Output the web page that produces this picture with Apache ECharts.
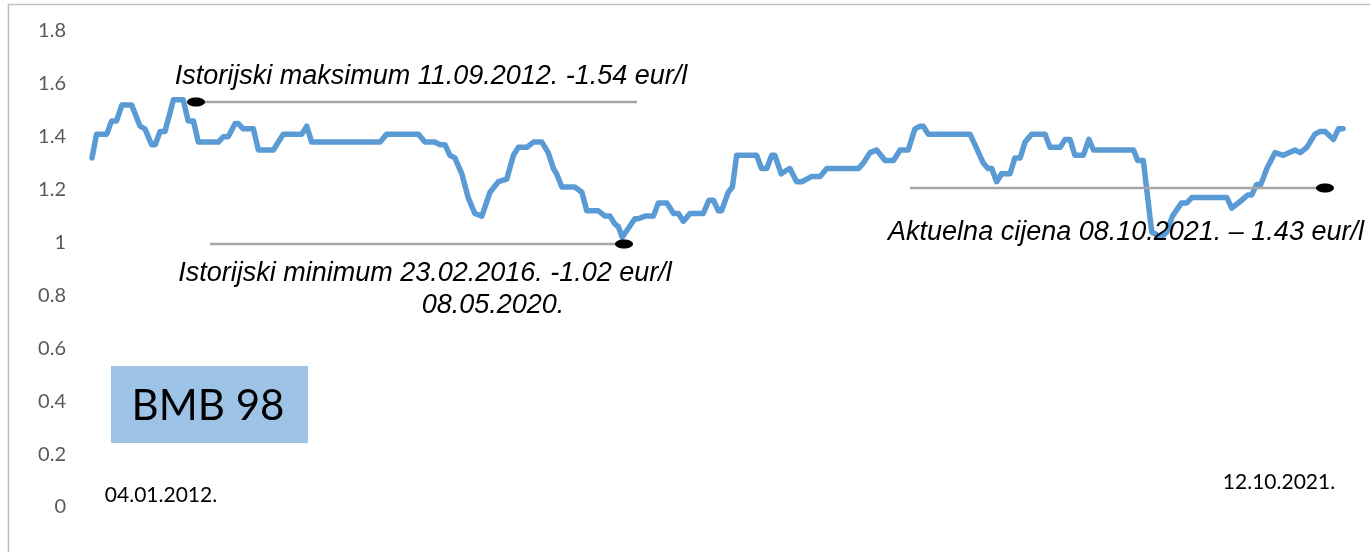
<!DOCTYPE html>
<html>
<head>
<meta charset="utf-8">
<script src="https://cdn.jsdelivr.net/npm/echarts@6/dist/echarts.min.js"></script>
<style>html,body{margin:0;padding:0;background:#fff}#c{width:1370px;height:552px}</style>
</head>
<body>
<div id="c"></div>
<script>
const dates = [
'2012-01-04','2012-01-17','2012-02-15','2012-02-29','2012-03-14','2012-03-29','2012-04-26','2012-05-20','2012-06-03','2012-06-22',
'2012-07-02','2012-07-16','2012-07-30','2012-08-23','2012-09-11','2012-09-20','2012-10-04','2012-10-19','2012-11-02','2012-12-29',
'2013-01-12','2013-01-26','2013-02-15','2013-02-24','2013-03-10','2013-04-08','2013-04-22','2013-06-04','2013-07-02','2013-08-24',
'2013-09-07','2013-09-21','2014-04-04','2014-04-23','2014-07-22','2014-08-10','2014-09-07','2014-09-22','2014-10-06','2014-10-20',
'2014-11-03','2014-11-23','2014-12-11','2014-12-30','2015-01-19','2015-02-11','2015-03-07','2015-03-31','2015-04-19','2015-05-03',
'2015-05-27','2015-06-15','2015-07-09','2015-07-27','2015-08-11','2015-08-20','2015-09-04','2015-10-11','2015-10-31','2015-11-14',
'2015-12-17','2016-01-05','2016-01-19','2016-02-02','2016-02-12','2016-02-23','2016-03-30','2016-04-09','2016-04-28','2016-05-22',
'2016-06-05','2016-06-29','2016-07-18','2016-08-01','2016-08-15','2016-09-03','2016-10-11','2016-10-27','2016-11-09','2016-11-23',
'2016-12-02','2016-12-21','2017-01-02','2017-01-14','2017-03-12','2017-03-26','2017-04-10','2017-04-24','2017-05-03','2017-05-21',
'2017-06-01','2017-06-15','2017-07-04','2017-07-19','2017-08-16','2017-09-09','2017-09-28','2017-12-27','2018-01-10','2018-01-29',
'2018-02-17','2018-03-13','2018-04-06','2018-04-25','2018-05-18','2018-06-06','2018-06-21','2018-06-30','2018-07-14','2018-11-10',
'2018-11-24','2018-12-18','2019-01-01','2019-01-11','2019-01-25','2019-02-08','2019-03-04','2019-03-18','2019-04-02','2019-04-16',
'2019-05-05','2019-06-12','2019-06-26','2019-07-25','2019-08-08','2019-08-22','2019-09-05','2019-09-29','2019-10-15','2019-10-28',
'2020-02-19','2020-03-02','2020-03-18','2020-04-11','2020-05-08','2020-05-24','2020-06-09','2020-07-05','2020-07-20','2020-08-03',
'2020-11-11','2020-11-25','2020-12-23','2021-01-10','2021-01-21','2021-02-04','2021-02-16','2021-03-05','2021-03-28','2021-04-21',
'2021-05-24','2021-06-08','2021-06-27','2021-07-20','2021-08-04','2021-08-18','2021-09-11','2021-09-25','2021-10-08'
];
const prices = [
1.32,1.41,1.41,1.46,1.46,1.52,1.52,1.44,1.43,1.37,
1.37,1.42,1.42,1.54,1.54,1.54,1.46,1.46,1.38,1.38,
1.40,1.40,1.45,1.45,1.43,1.43,1.35,1.35,1.41,1.41,
1.44,1.38,1.38,1.41,1.41,1.38,1.38,1.37,1.37,1.33,
1.32,1.26,1.17,1.11,1.10,1.19,1.23,1.24,1.33,1.36,
1.36,1.38,1.38,1.34,1.28,1.26,1.21,1.21,1.19,1.12,
1.12,1.10,1.10,1.07,1.06,1.02,1.09,1.09,1.10,1.10,
1.15,1.15,1.11,1.11,1.08,1.11,1.11,1.16,1.16,1.12,
1.12,1.19,1.21,1.33,1.33,1.28,1.28,1.33,1.33,1.26,
1.27,1.28,1.23,1.23,1.25,1.25,1.28,1.28,1.30,1.34,
1.35,1.31,1.31,1.35,1.35,1.43,1.44,1.44,1.41,1.41,
1.37,1.30,1.28,1.28,1.23,1.26,1.26,1.32,1.32,1.38,
1.41,1.41,1.36,1.36,1.39,1.39,1.33,1.33,1.39,1.35,
1.35,1.31,1.31,1.04,1.02,1.04,1.10,1.15,1.15,1.17,
1.17,1.13,1.16,1.18,1.18,1.22,1.22,1.28,1.34,1.33,
1.35,1.34,1.36,1.41,1.42,1.42,1.39,1.43,1.43
];
const yTicks = {min: 0, max: 1.8, step: 0.2};
const titleText = 'BMB 98';
const startLabel = '04.01.2012.';
const endLabel = '12.10.2021.';
const maxNote = 'Istorijski maksimum 11.09.2012. -1.54 eur/l';
const minNote1 = 'Istorijski minimum 23.02.2016. -1.02 eur/l';
const minNote2 = '08.05.2020.';
const curNote = 'Aktuelna cijena 08.10.2021. \u2013 1.43 eur/l';

const seriesData = dates.map((d, i) => [d, prices[i]]);
const chart = echarts.init(document.getElementById('c'));
const noteFont = {fill: '#000', fontSize: 27, fontStyle: 'italic', fontFamily: 'Liberation Sans, Arial, sans-serif', textAlign: 'center', textVerticalAlign: 'middle'};
const grayLine = {stroke: '#A6A6A6', lineWidth: 2.5};
chart.setOption({
  animation: false,
  backgroundColor: '#fff',
  grid: {left: 92, right: 27, top: 31, bottom: 45},
  xAxis: {type: 'time', min: dates[0], max: dates[dates.length - 1], show: false},
  yAxis: {
    type: 'value', min: yTicks.min, max: yTicks.max, interval: yTicks.step,
    axisLine: {show: false}, axisTick: {show: false}, splitLine: {show: false},
    axisLabel: {color: '#595959', fontSize: 20, fontFamily: 'Lato, sans-serif', margin: 26}
  },
  series: [{
    type: 'line', data: seriesData, showSymbol: false, symbol: 'none',
    lineStyle: {color: '#5B9BD5', width: 5.5, join: 'round', cap: 'round'},
    z: 3
  }],
  graphic: [
    {type: 'rect', shape: {x: 8.5, y: 4.5, width: 1400, height: 600}, style: {fill: 'none', stroke: '#BFBFBF', lineWidth: 1.5}, z: 0},
    {type: 'rect', shape: {x: 111, y: 366, width: 197, height: 77}, style: {fill: '#9DC3E6'}, z: 10},
    {type: 'text', x: 208, y: 406, style: {text: titleText, fill: '#000', fontSize: 42, fontFamily: 'Lato, sans-serif', textAlign: 'center', textVerticalAlign: 'middle'}, z: 11},
    {type: 'text', x: 161, y: 495, style: {text: startLabel, fill: '#000', fontSize: 21, fontFamily: 'Lato, sans-serif', textAlign: 'center', textVerticalAlign: 'middle'}, z: 11},
    {type: 'text', x: 1279, y: 482, style: {text: endLabel, fill: '#000', fontSize: 21, fontFamily: 'Lato, sans-serif', textAlign: 'center', textVerticalAlign: 'middle'}, z: 11},
    {type: 'line', shape: {x1: 190, y1: 102, x2: 637, y2: 102}, style: grayLine, z: 5},
    {type: 'ellipse', shape: {cx: 196, cy: 102, rx: 9, ry: 4.5}, style: {fill: '#000'}, z: 6},
    {type: 'line', shape: {x1: 210, y1: 244, x2: 625, y2: 244}, style: grayLine, z: 5},
    {type: 'ellipse', shape: {cx: 624, cy: 244, rx: 9, ry: 4.5}, style: {fill: '#000'}, z: 6},
    {type: 'line', shape: {x1: 910, y1: 188, x2: 1330, y2: 188}, style: grayLine, z: 5},
    {type: 'ellipse', shape: {cx: 1325, cy: 188, rx: 9, ry: 4.5}, style: {fill: '#000'}, z: 6},
    {type: 'text', x: 431, y: 76, style: Object.assign({text: maxNote}, noteFont), z: 11},
    {type: 'text', x: 425, y: 273, style: Object.assign({text: minNote1}, noteFont), z: 11},
    {type: 'text', x: 493, y: 305, style: Object.assign({text: minNote2}, noteFont), z: 11},
    {type: 'text', x: 1126, y: 232, style: Object.assign({text: curNote}, noteFont), z: 11}
  ]
});
</script>
</body>
</html>
